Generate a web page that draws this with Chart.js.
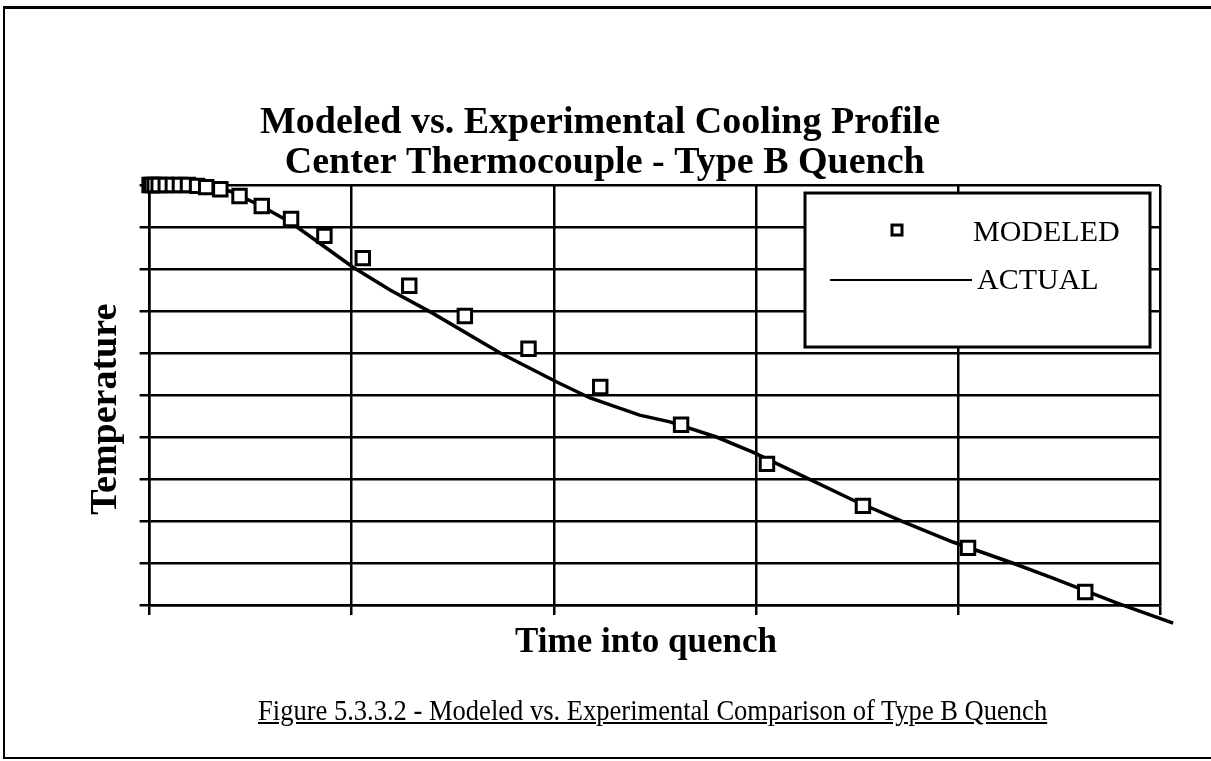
<!DOCTYPE html>
<html>
<head>
<meta charset="utf-8">
<script src="https://cdn.jsdelivr.net/npm/chart.js@4"></script>
<style>
  body { margin: 0; background: #fff; width: 1211px; height: 761px; overflow: hidden; position: relative; }
  #frame { position: absolute; left: 3px; top: 6px; width: 1230px; height: 748px;
           border-top: 3px solid #000; border-left: 2px solid #000; border-bottom: 2px solid #000; }
  #myChart { position: absolute; left: 0; top: 0; }
  #caption { position: absolute; left: 258px; top: 696px; font-family: 'Liberation Serif'; font-size: 29px;
             line-height: 1; text-decoration: underline; white-space: nowrap; color: #000;
             transform: scaleX(0.915); transform-origin: left top; }
</style>
</head>
<body>
<div id="frame"></div>
<canvas id="myChart" width="1211" height="761"></canvas>
<div id="caption">Figure 5.3.3.2 - Modeled vs. Experimental Comparison of Type B Quench</div>
<script>
// values (no numbers on the axes, so arbitrary 0-100 units)
const modeledTime = [0, 0.2, 0.5, 0.9, 1.6, 2.3, 3.0, 3.8, 4.7, 5.6, 7.0, 8.9, 11.1, 14.0, 17.3, 21.1, 25.7, 31.2, 37.5, 44.6, 52.6, 61.1, 70.6, 81.0, 92.6];
const modeledTemp = [100, 100, 100, 100, 100, 100, 100, 100, 99.8, 99.5, 99.0, 97.4, 95.0, 91.9, 87.9, 82.6, 76.0, 68.8, 61.0, 51.9, 42.9, 33.6, 23.6, 13.6, 3.1];

const actualTime = [0, 4.9, 7.9, 10.9, 13.9, 16.8, 20.1, 23.8, 28.0, 34.7, 40.3, 43.6, 48.5, 51.5, 56.1, 59.7, 64.4, 69.6, 74.6, 79.5, 85.4, 89.4, 95.7, 101.3];
const actualTemp = [100, 99.8, 98.6, 95.2, 91.2, 86.2, 80.5, 75.0, 69.5, 60.0, 53.1, 49.3, 45.2, 43.6, 40.0, 36.4, 31.0, 25.0, 19.8, 15.0, 10.0, 6.4, 0.5, -4.3];

const titleLines = ['Modeled vs. Experimental Cooling Profile', ' Center Thermocouple - Type B Quench'];
const seriesNames = ['MODELED', 'ACTUAL'];
const xRange = [0, 100], xStep = 20;
const yRange = [0, 100], yStep = 10;

const SERIF = "'Liberation Serif', 'Times New Roman', serif";

function toPoints(xs, ys) {
    return xs.map((x, i) => ({x: x, y: ys[i]}));
}

// boxed legend in the upper right corner of the plot
const boxLegend = {
    id: 'boxLegend',
    afterDraw(chart) {
        const {ctx, chartArea} = chart;
        const left = chartArea.right - 355, top = chartArea.top + 8;
        const w = 345, h = 154;
        ctx.save();
        ctx.fillStyle = '#fff';
        ctx.fillRect(left, top, w, h);
        ctx.strokeStyle = '#000';
        ctx.lineWidth = 3;
        ctx.strokeRect(left, top, w, h);

        // MODELED entry
        ctx.lineWidth = 3;
        ctx.strokeRect(left + 87, top + 32, 10, 10);
        ctx.fillStyle = '#000';
        ctx.font = '30px ' + SERIF;
        ctx.textBaseline = 'middle';
        ctx.fillText(seriesNames[0], left + 168, top + 40);

        // ACTUAL entry
        ctx.lineWidth = 2;
        ctx.beginPath();
        ctx.moveTo(left + 25, top + 87);
        ctx.lineTo(left + 167, top + 87);
        ctx.stroke();
        ctx.fillText(seriesNames[1], left + 172, top + 88);
        ctx.restore();
    }
};

const ctx = document.getElementById('myChart').getContext('2d');

const data = {
    datasets: [{
        label: seriesNames[0],
        data: toPoints(modeledTime, modeledTemp),
        showLine: false,
        pointStyle: 'rect',
        pointRadius: 9.5,
        pointBorderWidth: 3,
        pointBorderColor: '#000',
        pointBackgroundColor: '#fff',
        clip: false
    }, {
        label: seriesNames[1],
        data: toPoints(actualTime, actualTemp),
        showLine: true,
        borderColor: '#000',
        borderWidth: 3.5,
        pointRadius: 0,
        tension: 0,
        clip: false
    }]
};

const options = {
    responsive: false,
    animation: false,
    devicePixelRatio: 1,
    layout: {
        padding: {left: 40, right: 51, top: 103, bottom: 97}
    },
    plugins: {
        legend: {display: false},
        tooltip: {enabled: false},
        title: {
            display: true,
            text: titleLines,
            color: '#000',
            font: {family: SERIF, size: 38, weight: 'bold', lineHeight: 1.053},
            padding: {top: 0, bottom: 2}
        }
    },
    scales: {
        x: {
            type: 'linear',
            min: xRange[0],
            max: xRange[1],
            ticks: {stepSize: xStep, display: false},
            grid: {color: '#000', lineWidth: 2.5, tickLength: 10, drawTicks: true},
            border: {color: '#000', width: 2.5},
            title: {
                display: true,
                text: 'Time into quench  ',
                color: '#000',
                font: {family: SERIF, size: 35, weight: 'bold', lineHeight: 1.2},
                padding: {top: 7, bottom: 0}
            }
        },
        y: {
            type: 'linear',
            min: yRange[0],
            max: yRange[1],
            ticks: {stepSize: yStep, display: false},
            grid: {color: '#000', lineWidth: 2.5, tickLength: 10, drawTicks: true},
            border: {color: '#000', width: 2.5},
            title: {
                display: true,
                text: 'Temperature   ',
                color: '#000',
                font: {family: SERIF, size: 38, weight: 'bold', lineHeight: 1.2},
                padding: {top: 43, bottom: 11}
            }
        }
    }
};

let config = {
    type: 'scatter',
    data: data,
    options: options,
    plugins: [boxLegend]
};

let graph = new Chart(ctx, config);
</script>
</body>
</html>
